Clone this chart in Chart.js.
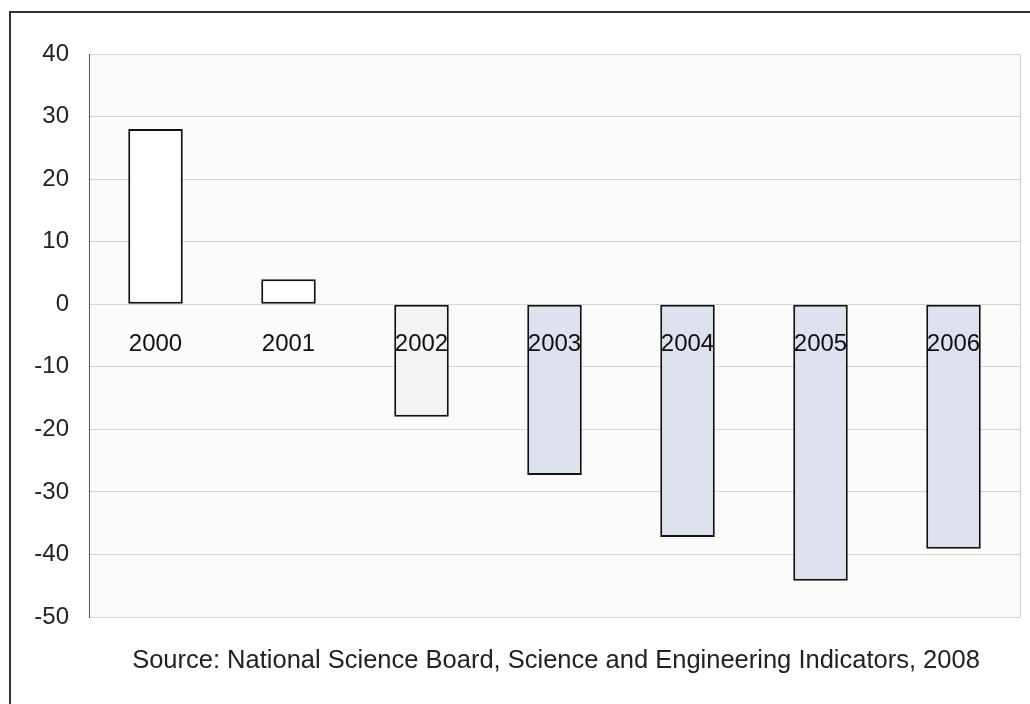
<!DOCTYPE html>
<html>
<head>
<meta charset="utf-8">
<script src="https://cdn.jsdelivr.net/npm/chart.js@4"></script>
<style>
  html, body { margin: 0; padding: 0; background: #fff; }
  #wrap { position: relative; width: 1030px; height: 704px; overflow: hidden; }
  #frame { position: absolute; left: 9px; top: 11px; width: 1040px; height: 720px;
           border-left: 2px solid #333; border-top: 2px solid #333; }
  #src { position: absolute; left: 0; width: 1112px; top: 645px; text-align: center;
         font: 25.5px "Liberation Sans", Arial, sans-serif; color: #222; }
  canvas { position: absolute; left: 0; top: 0; }
</style>
</head>
<body>
<div id="wrap">
  <div id="frame"></div>
  <canvas id="chart" width="1030" height="704"></canvas>
  <div id="src">Source: National Science Board, Science and Engineering Indicators, 2008</div>
</div>
<script>
// values
const years = ["2000", "2001", "2002", "2003", "2004", "2005", "2006"];
const balance = [28, 4, -18, -27.3, -37.2, -44.2, -39.1];
const fills = ["#ffffff", "#ffffff", "#f3f3f4", "#dde2ee", "#dde2ee", "#dde2ee", "#dde2ee"];
const yTicks = [40, 30, 20, 10, 0, -10, -20, -30, -40, -50];

const FONT = "'Liberation Sans', Arial, sans-serif";

// light background + right edge of the plot area
const plotBg = {
  id: "plotBg",
  beforeDraw(chart) {
    const { ctx, chartArea: a } = chart;
    ctx.save();
    ctx.fillStyle = "#fbfbfb";
    ctx.fillRect(a.left, a.top, a.right - a.left, a.bottom - a.top);
    ctx.strokeStyle = "#cfcfcf";
    ctx.lineWidth = 1;
    ctx.beginPath();
    ctx.moveTo(a.right + 0.5, a.top);
    ctx.lineTo(a.right + 0.5, a.bottom);
    ctx.stroke();
    ctx.restore();
  }
};

new Chart(document.getElementById("chart"), {
  type: "bar",
  data: {
    labels: years,
    datasets: [{
      data: balance,
      backgroundColor: fills,
      borderColor: "#111",
      borderWidth: 2,
      borderSkipped: false,
      barPercentage: 0.41,
      categoryPercentage: 1
    }]
  },
  options: {
    responsive: false,
    animation: false,
    layout: { padding: { top: 54, right: 10, bottom: 87, left: 0 } },
    plugins: { legend: { display: false }, tooltip: { enabled: false } },
    scales: {
      x: {
        position: { y: 0 },
        grid: { display: false, drawTicks: false },
        border: { display: false },
        ticks: { z: 1, padding: 26, color: "#111", font: { family: FONT, size: 24 } }
      },
      y: {
        min: -50,
        max: 40,
        afterFit(scale) { scale.width = 89; },
        afterBuildTicks(scale) { scale.ticks = yTicks.map(v => ({ value: v })); },
        grid: { color: "#d4d4d4", drawTicks: false },
        border: { color: "#555", width: 1 },
        ticks: { padding: 20, color: "#222", font: { family: FONT, size: 24 } }
      }
    }
  },
  plugins: [plotBg]
});
</script>
</body>
</html>
